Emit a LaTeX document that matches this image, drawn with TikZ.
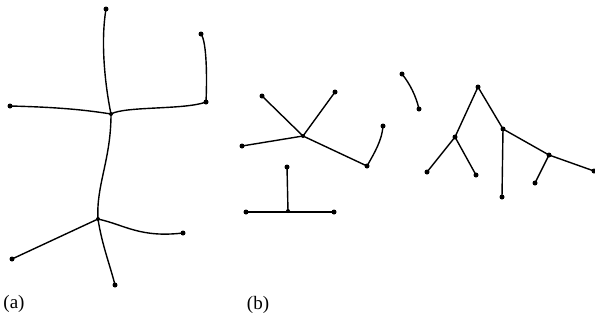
\documentclass[tikz,border=0pt]{standalone}
\usepackage{fontspec}
\setmainfont{Liberation Serif}
\begin{document}
\begin{tikzpicture}[x=1pt,y=-1pt,
  dot/.style={circle,fill=black,inner sep=0pt,minimum size=5pt},
  edge/.style={line width=1.4pt,black},
  lab/.style={font=\fontsize{19}{21}\selectfont,inner sep=0pt}]
\useasboundingbox (0,0) rectangle (595,322);
% (a)
\node[dot] (at) at (106,9) {};
\node[dot] (atr) at (201,34) {};
\node[dot] (arm) at (206,102) {};
\node[dot] (al) at (10,106) {};
\node[dot,minimum size=4pt] (ah) at (111,114) {};
\node[dot,minimum size=4pt] (ah2) at (98,219) {};
\node[dot] (ar) at (183,233) {};
\node[dot] (all) at (12,259) {};
\node[dot] (ab) at (115,285) {};
\draw[edge] (at.center) .. controls (100,45) and (106,90) .. (ah.center);
\draw[edge] (ah.center) .. controls (125,106) and (185,110) .. (arm.center);
\draw[edge] (atr.center) .. controls (207,42) and (207,80) .. (arm.center);
\draw[edge] (al.center) .. controls (50,107) and (80,109) .. (ah.center);
\draw[edge] (ah.center) .. controls (111,160) and (96,185) .. (ah2.center);
\draw[edge] (ah2.center) .. controls (125,225) and (140,238) .. (ar.center);
\draw[edge] (ah2.center) -- (all.center);
\draw[edge] (ah2.center) .. controls (102,245) and (110,265) .. (ab.center);
\node[lab] (la) at (14,304) {(a)};
% (b)
\node[dot,minimum size=4pt] (bh) at (303,136) {};
\node[dot] (bul) at (262,96) {};
\node[dot] (bur) at (335,92) {};
\node[dot] (bl) at (242,146) {};
\node[dot] (blr) at (367,166) {};
\node[dot] (bfr) at (383,126) {};
\draw[edge] (bh.center) -- (bul.center);
\draw[edge] (bh.center) -- (bur.center);
\draw[edge] (bh.center) -- (bl.center);
\draw[edge] (bh.center) -- (blr.center);
\draw[edge] (blr.center) .. controls (375,152) and (382,140) .. (bfr.center);
\node[dot] (tt) at (287,167) {};
\node[dot,minimum size=4pt] (tm) at (288,211) {};
\node[dot] (tl) at (246,212) {};
\node[dot] (tr) at (334,212) {};
\draw[edge] (tt.center) -- (tm.center);
\draw[edge] (tl.center) -- (tr.center);
\node[dot] (p1) at (402,74) {};
\node[dot] (p2) at (419,109) {};
\draw[edge] (p1.center) .. controls (410,84) and (416,96) .. (p2.center);
\node[dot] (r) at (478,87) {};
\node[dot] (lc) at (455,137) {};
\node[dot] (lc1) at (427,172) {};
\node[dot] (lc2) at (476,175) {};
\node[dot] (rc) at (503,129) {};
\node[dot] (rc1) at (502,197) {};
\node[dot] (rc2) at (549,155) {};
\node[dot] (rc21) at (535,183) {};
\node[dot] (rc22) at (594,171) {};
\draw[edge] (r.center) -- (lc.center);
\draw[edge] (r.center) -- (rc.center);
\draw[edge] (lc.center) -- (lc1.center);
\draw[edge] (lc.center) -- (lc2.center);
\draw[edge] (rc.center) -- (rc1.center);
\draw[edge] (rc.center) -- (rc2.center);
\draw[edge] (rc2.center) -- (rc21.center);
\draw[edge] (rc2.center) -- (rc22.center);
\node[lab] (lb) at (258,305) {(b)};
\end{tikzpicture}
\end{document}
